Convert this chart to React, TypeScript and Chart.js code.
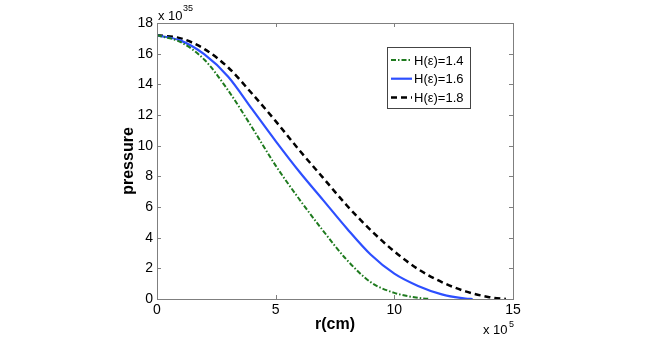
import React, { useEffect, useRef } from "react";
import { Chart, registerables } from "chart.js";

Chart.register(...registerables);

// r in units of 10^5 cm, pressure in units of 10^35
const r14 = [0, 1, 2, 3, 4, 5, 6, 7, 8, 9, 10, 11, 11.5];
const p14 = [17.2, 16.75, 15.6, 13.6, 11.2, 8.7, 6.5, 4.45, 2.55, 1.1, 0.4, 0.08, 0];

const r16 = [0, 1, 2, 3, 4, 5, 6, 7, 8, 9, 10, 11, 12, 13, 13.3];
const p16 = [17.2, 16.85, 15.95, 14.5, 12.4, 10.3, 8.3, 6.45, 4.6, 2.9, 1.65, 0.85, 0.3, 0.03, 0];

const r18 = [0, 1, 2, 3, 4, 5, 6, 7, 8, 9, 10, 11, 12, 13, 14, 14.7];
const p18 = [17.2, 17.0, 16.3, 15.1, 13.4, 11.6, 9.7, 7.9, 6.1, 4.5, 3.1, 1.95, 1.1, 0.5, 0.12, 0];

const seriesLabels = ["H(ε)=1.4", "H(ε)=1.6", "H(ε)=1.8"];
const xTicks = [0, 5, 10, 15];
const yTicks = [0, 2, 4, 6, 8, 10, 12, 14, 16, 18];
const xTitle = "r(cm)";
const yTitle = "pressure";

const FONT = "'Liberation Sans', Arial, Helvetica, sans-serif";
const AXIS = "#7f7f7f";

const toPts = (xs: number[], ys: number[]) => xs.map((x, i) => ({ x, y: ys[i] }));

const decorPlugin = {
  id: "decor",
  afterDraw(chart: any) {
    const { ctx, chartArea: a, scales } = chart;
    const xs = scales.x;
    const ys = scales.y;
    ctx.save();
    // box
    ctx.strokeStyle = AXIS;
    ctx.lineWidth = 1;
    ctx.setLineDash([]);
    ctx.strokeRect(Math.round(a.left) + 0.5, Math.round(a.top) + 0.5, Math.round(a.right - a.left), Math.round(a.bottom - a.top));
    // inward ticks
    ctx.beginPath();
    yTicks.forEach((v) => {
      const py = Math.round(ys.getPixelForValue(v)) + 0.5;
      ctx.moveTo(a.left, py);
      ctx.lineTo(a.left + 4, py);
      ctx.moveTo(a.right, py);
      ctx.lineTo(a.right - 4, py);
    });
    xTicks.forEach((v) => {
      const px = Math.round(xs.getPixelForValue(v)) + 0.5;
      ctx.moveTo(px, a.bottom);
      ctx.lineTo(px, a.bottom - 4);
      ctx.moveTo(px, a.top);
      ctx.lineTo(px, a.top + 4);
    });
    ctx.stroke();

    // axis titles
    ctx.fillStyle = "#000";
    ctx.font = `bold 16px ${FONT}`;
    ctx.textAlign = "center";
    ctx.textBaseline = "middle";
    ctx.fillText(xTitle, (a.left + a.right) / 2, a.bottom + 26);
    ctx.save();
    ctx.translate(a.left - 28, (a.top + a.bottom) / 2);
    ctx.rotate(-Math.PI / 2);
    ctx.fillText(yTitle, 0, 0);
    ctx.restore();

    // exponent labels
    ctx.textAlign = "left";
    ctx.textBaseline = "alphabetic";
    ctx.font = `13px ${FONT}`;
    ctx.fillText("x 10", a.left + 1, a.top - 3);
    ctx.font = `9px ${FONT}`;
    ctx.fillText("35", a.left + 26, a.top - 12);
    ctx.font = `13px ${FONT}`;
    ctx.fillText("x 10", a.right - 30, a.bottom + 35);
    ctx.font = `9px ${FONT}`;
    ctx.fillText("5", a.right - 4, a.bottom + 28);

    // legend
    const lx = a.left + 230;
    const ly = a.top + 24;
    const lw = 83;
    const lh = 61;
    ctx.fillStyle = "#fff";
    ctx.fillRect(lx, ly, lw, lh);
    ctx.strokeStyle = "#444";
    ctx.lineWidth = 1;
    ctx.strokeRect(lx + 0.5, ly + 0.5, lw, lh);
    chart.data.datasets.forEach((ds: any, i: number) => {
      const cy = ly + 13 + i * 18.7;
      ctx.strokeStyle = ds.borderColor;
      ctx.lineWidth = ds.borderWidth;
      ctx.setLineDash(ds.borderDash || []);
      ctx.beginPath();
      ctx.moveTo(lx + 4, cy);
      ctx.lineTo(lx + 25, cy);
      ctx.stroke();
      ctx.setLineDash([]);
      ctx.fillStyle = "#000";
      ctx.font = `13px ${FONT}`;
      ctx.textBaseline = "middle";
      ctx.fillText(ds.label, lx + 27, cy + 1);
    });
    ctx.restore();
  },
};

export default function App() {
  const ref = useRef<HTMLCanvasElement | null>(null);
  useEffect(() => {
    if (!ref.current) return;
    const chart = new Chart(ref.current, {
      type: "line",
      data: {
        datasets: [
          {
            label: seriesLabels[0],
            data: toPts(r14, p14),
            borderColor: "#1e7a1e",
            borderWidth: 2,
            borderDash: [5, 2, 1.5, 2],
            pointRadius: 0,
            cubicInterpolationMode: "monotone",
          },
          {
            label: seriesLabels[1],
            data: toPts(r16, p16),
            borderColor: "#2d4fff",
            borderWidth: 2.2,
            pointRadius: 0,
            cubicInterpolationMode: "monotone",
          },
          {
            label: seriesLabels[2],
            data: toPts(r18, p18),
            borderColor: "#000000",
            borderWidth: 2.5,
            borderDash: [6, 4],
            pointRadius: 0,
            cubicInterpolationMode: "monotone",
          },
        ],
      },
      options: {
        animation: false,
        responsive: false,
        maintainAspectRatio: false,
        devicePixelRatio: 1,
        layout: { padding: { left: 0, top: 23, right: 141, bottom: 0 } },
        plugins: { legend: { display: false }, tooltip: { enabled: false } },
        scales: {
          x: {
            type: "linear",
            min: 0,
            max: 15,
            afterFit: (s: any) => {
              s.height = 38;
            },
            afterBuildTicks: (s: any) => {
              s.ticks = xTicks.map((v) => ({ value: v }));
            },
            ticks: {
              color: "#000",
              font: { family: FONT, size: 14 },
              padding: 3,
              maxRotation: 0,
              autoSkip: false,
            },
            grid: { display: false, drawTicks: false },
            border: { display: true, color: AXIS, width: 1 },
          },
          y: {
            type: "linear",
            min: 0,
            max: 18,
            afterFit: (s: any) => {
              s.width = 157;
            },
            afterBuildTicks: (s: any) => {
              s.ticks = yTicks.map((v) => ({ value: v }));
            },
            ticks: {
              color: "#000",
              font: { family: FONT, size: 14 },
              padding: 4,
              autoSkip: false,
            },
            grid: { display: false, drawTicks: false },
            border: { display: true, color: AXIS, width: 1 },
          },
        },
      },
      plugins: [decorPlugin],
    } as any);
    return () => chart.destroy();
  }, []);
  return (
    <div style={{ position: "fixed", left: 0, top: 0, width: 654, height: 337, background: "#fff" }}>
      <canvas ref={ref} width={654} height={337} style={{ width: 654, height: 337, display: "block" }} />
    </div>
  );
}
